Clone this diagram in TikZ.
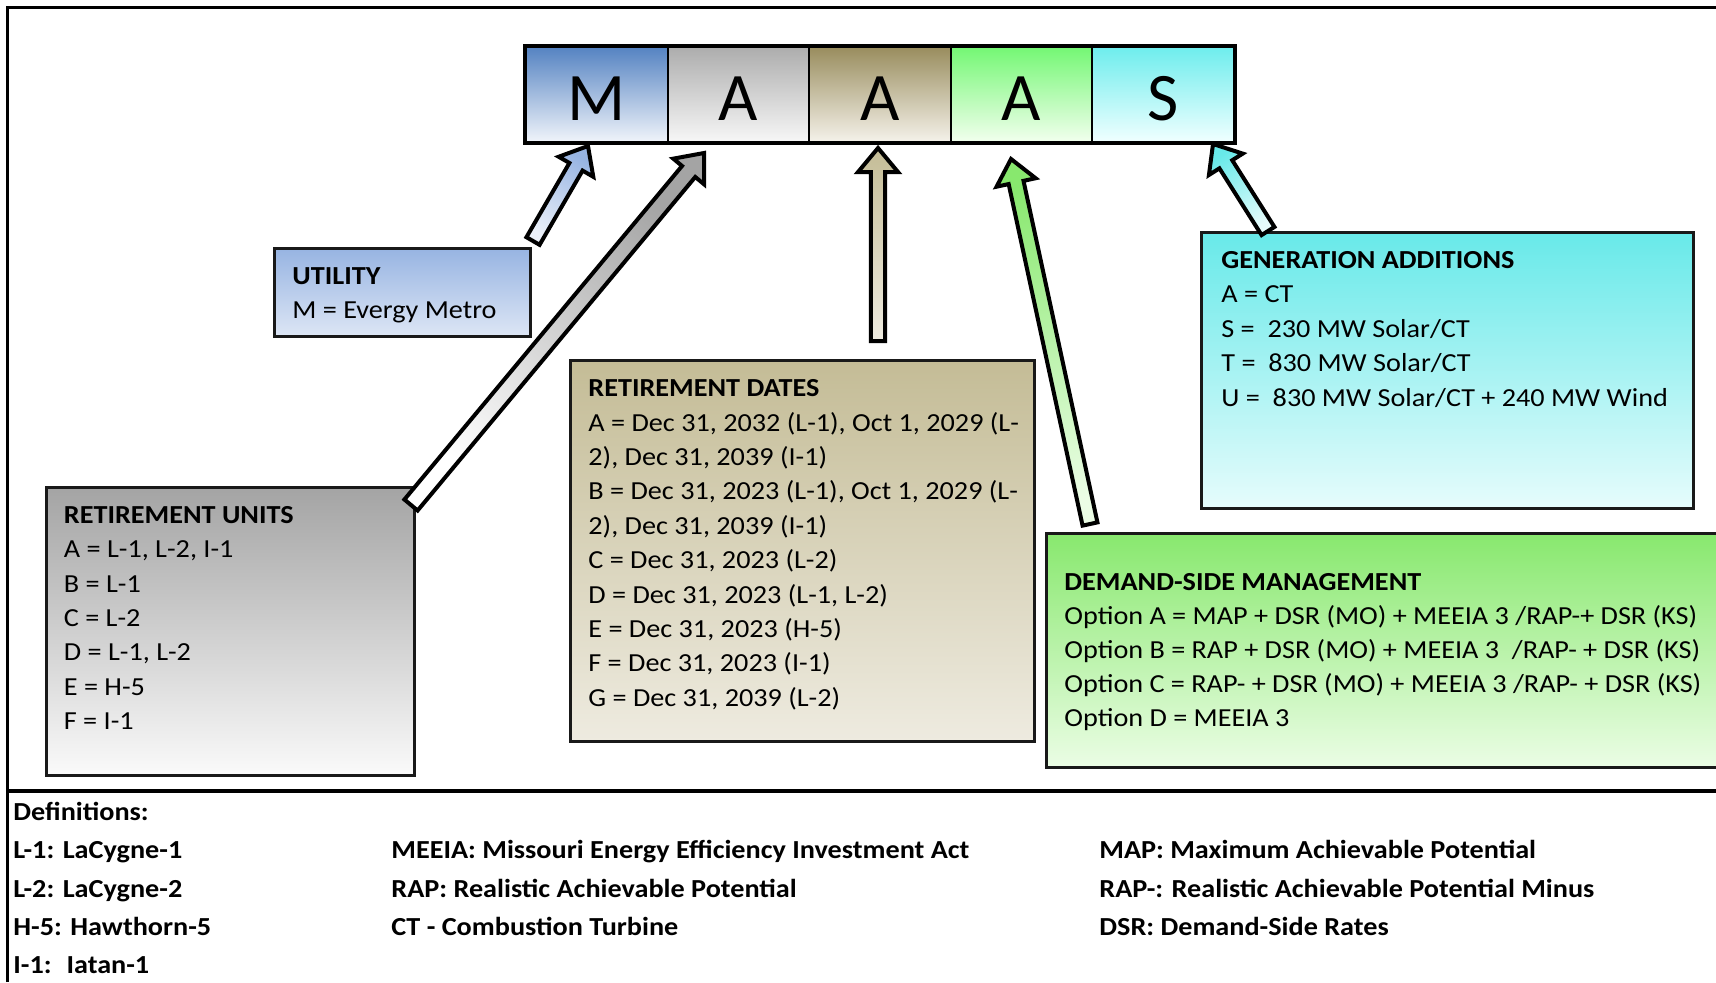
\documentclass[tikz,border=0pt]{standalone}
\usepackage{fontspec}
\setmainfont{Carlito}[FakeStretch=1.085]
\newfontfamily\letterfont{Carlito}
\usetikzlibrary{calc}
\definecolor{mTop}{HTML}{5583C2}\definecolor{mBot}{HTML}{F0F4FA}
\definecolor{gTop}{HTML}{ADADAD}\definecolor{gBot}{HTML}{F7F7F7}
\definecolor{tTop}{HTML}{998D5E}\definecolor{tBot}{HTML}{F5F2EA}
\definecolor{eTop}{HTML}{74F774}\definecolor{eBot}{HTML}{F2FFEE}
\definecolor{cTop}{HTML}{6EEDED}\definecolor{cBot}{HTML}{F0FFFF}
\definecolor{uTop}{HTML}{97B4E2}\definecolor{uBot}{HTML}{DDE6F5}
\definecolor{rTop}{HTML}{A4A4A4}\definecolor{rBot}{HTML}{FAFAFA}
\definecolor{dTop}{HTML}{C4BC96}\definecolor{dBot}{HTML}{EEEBE0}
\definecolor{nTop}{HTML}{68E9E9}\definecolor{nBot}{HTML}{E6FCFC}
\definecolor{sTop}{HTML}{88E86E}\definecolor{sBot}{HTML}{EBFDE5}
\tikzset{
  x=0.5pt, y=-0.5pt,
  panel/.style={draw=black!90, line width=1.5pt, rectangle, inner sep=0pt, anchor=north west},
  cell/.style={draw=black, line width=1pt, rectangle, inner sep=0pt, anchor=north west, minimum width=70.75pt, minimum height=47.5pt},
  letter/.style={anchor=base, inner sep=0pt, font=\letterfont\fontsize{34}{40}\selectfont},
  body/.style={anchor=base west, inner sep=0pt, font=\fontsize{13}{15}\selectfont},
  heading/.style={anchor=base west, inner sep=0pt, font=\fontsize{13}{15}\selectfont\bfseries},
  defn/.style={anchor=base west, inner sep=0pt, font=\fontsize{13}{15}\selectfont\bfseries},
  barrow/.style={draw=black, line width=2pt, line join=miter},
  frame/.style={line width=1.5pt, draw=black},
}
% #1 tail, #2 tip, #3 fill options, #4 name prefix, #5 shaft half width
\newcommand\blockarrow[5]{%
  \coordinate (#4-hb) at ($(#2)!12pt!(#1)$);
  \path[barrow,#3]
    ($(#1)!#5!90:(#2)$) --
    ($(#4-hb)!#5!90:(#2)$) --
    ($(#4-hb)!10pt!90:(#2)$) --
    (#2) --
    ($(#4-hb)!10pt!-90:(#2)$) --
    ($(#4-hb)!#5!-90:(#2)$) --
    ($(#1)!#5!-90:(#2)$) -- cycle;
}
\begin{document}
\begin{tikzpicture}
\clip (0,0) rectangle (1716,982);
\fill[white] (0,0) rectangle (1716,982);
% frame
\draw[frame] (7.8,982) -- (7.8,7.5) -- (1716,7.5);
\draw[line width=2pt] (7.8,791) -- (1716,791);

% MAAAS cells
\node[cell, top color=mTop, bottom color=mBot] (cM) at (525,46) {};
\node[cell, top color=gTop, bottom color=gBot] (cA1) at (666.5,46) {};
\node[cell, top color=tTop, bottom color=tBot] (cA2) at (808,46) {};
\node[cell, top color=eTop, bottom color=eBot] (cA3) at (949.5,46) {};
\node[cell, top color=cTop, bottom color=cBot] (cS) at (1091,46) {};
\draw[line width=2pt] (cM.north west) rectangle (cS.south east);
\node[letter] (lM) at (cM.center |- 0,120) {M};
\node[letter] (lA1) at (cA1.center |- 0,120) {A};
\node[letter] (lA2) at (cA2.center |- 0,120) {A};
\node[letter] (lA3) at (cA3.center |- 0,120) {A};
\node[letter] (lS) at (cS.center |- 0,120) {S};

% panels
\node[panel, minimum width=128pt, minimum height=44pt, top color=uTop, bottom color=uBot] (util) at (272.5,247) {};
\node[panel, minimum width=183.75pt, minimum height=144pt, top color=rTop, bottom color=rBot] (ru) at (45,486) {};
\node[panel, minimum width=232pt, minimum height=190.5pt, top color=dTop, bottom color=dBot] (rd) at (569,359) {};
\node[panel, minimum width=246.25pt, minimum height=138pt, top color=nTop, bottom color=nBot] (gen) at (1199.5,231) {};
\node[panel, minimum width=342.5pt, minimum height=117pt, top color=sTop, bottom color=sBot] (dsm) at (1045,532) {};

% panel texts
\node[heading] (utilh) at (292,284) {UTILITY};
\node[body] (util1) at (292,318) {M = Evergy Metro};

\node[heading] (ruh) at (63.5,523.5) {RETIREMENT UNITS};
\foreach \t [count=\i] in {{A = L-1, L-2, I-1},{B = L-1},{C = L-2},{D = L-1, L-2},{E = H-5},{F = I-1}}
  \node[body] (ru\i) at (63.5,{523.5+34.3*\i}) {\t};

\node[heading] (rdh) at (588,396.7) {RETIREMENT DATES};
\foreach \t [count=\i] in {{A = Dec 31, 2032 (L-1), Oct 1, 2029 (L-},{2), Dec 31, 2039 (I-1)},{B = Dec 31, 2023 (L-1), Oct 1, 2029 (L-},{2), Dec 31, 2039 (I-1)},{C = Dec 31, 2023 (L-2)},{D = Dec 31, 2023 (L-1, L-2)},{E = Dec 31, 2023 (H-5)},{F = Dec 31, 2023 (I-1)},{G = Dec 31, 2039 (L-2)}}
  \node[body] (rd\i) at (588,{396.7+34.4*\i}) {\t};

\node[heading] (genh) at (1221,268) {GENERATION ADDITIONS};
\foreach \t [count=\i] in {{A = CT},{S = \ 230 MW Solar/CT},{T = \ 830 MW Solar/CT},{U = \ 830 MW Solar/CT + 240 MW Wind}}
  \node[body] (gen\i) at (1221,{268+34.6*\i}) {\t};

\node[heading] (dsmh) at (1064,590.7) {DEMAND-SIDE MANAGEMENT};
\foreach \t [count=\i] in {{Option A = MAP + DSR (MO) + MEEIA 3 /RAP-+ DSR (KS)},{Option B = RAP + DSR (MO) + MEEIA 3 \ /RAP- + DSR (KS)},{Option C = RAP- + DSR (MO) + MEEIA 3 /RAP- + DSR (KS)},{Option D = MEEIA 3}}
  \node[body] (dsm\i) at (1064,{590.7+34*\i}) {\t};

% arrows
\coordinate (tU) at (533,241);  \coordinate (pU) at (588,146);
\coordinate (tR) at (411,505);  \coordinate (pR) at (704,153);
\coordinate (tD) at (878,341);  \coordinate (pD) at (878,148);
\coordinate (tM) at (1090,524); \coordinate (pM) at (1011,159);
\coordinate (tG) at (1268,231); \coordinate (pG) at (1213,144);
\blockarrow{tU}{pU}{top color=uTop, bottom color=uBot!60!white, shading angle=-30}{aU}{3.8pt}
\blockarrow{tR}{pR}{top color=rTop, bottom color=white, shading angle=-39.8}{aR}{4.3pt}
\blockarrow{tD}{pD}{top color=dTop, bottom color=dBot}{aD}{3.6pt}
\blockarrow{tM}{pM}{top color=sTop, bottom color=sBot, shading angle=12.2}{aM}{3.8pt}
\blockarrow{tG}{pG}{top color=nTop, bottom color=nBot, shading angle=32.1}{aG}{3.8pt}

% definitions
\node[defn] (defh) at (13,820) {Definitions:};
\node[defn] (d1) at (13,858) {L-1: LaCygne-1};
\node[defn] (d2) at (13,897) {L-2: LaCygne-2};
\node[defn] (d3) at (13,935) {H-5: Hawthorn-5};
\node[defn] (d4) at (13,973) {I-1: \ Iatan-1};
\node[defn] (d5) at (391,858) {MEEIA: Missouri Energy Efficiency Investment Act};
\node[defn] (d6) at (391,897) {RAP: Realistic Achievable Potential};
\node[defn] (d7) at (391,935) {CT - Combustion Turbine};
\node[defn] (d8) at (1099,858) {MAP: Maximum Achievable Potential};
\node[defn] (d9) at (1099,897) {RAP-: Realistic Achievable Potential Minus};
\node[defn] (d10) at (1099,935) {DSR: Demand-Side Rates};
\end{tikzpicture}
\end{document}
